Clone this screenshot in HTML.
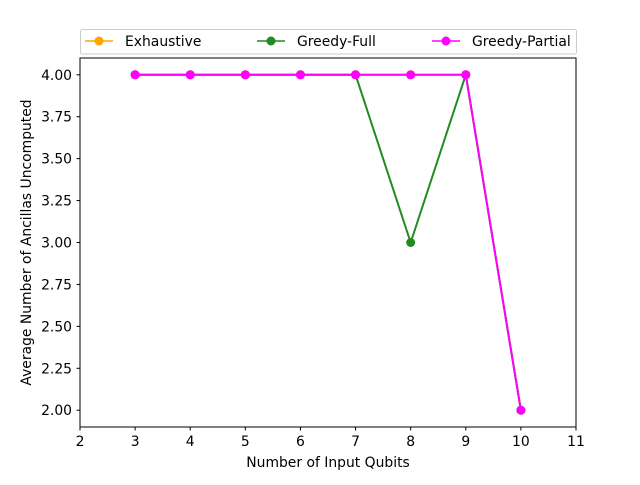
<!DOCTYPE html>
<html><head><meta charset="utf-8"><style>
body{margin:0;background:#fff;}
svg text{font-family:"DejaVu Sans","Liberation Sans",sans-serif;font-size:13.9px;fill:#000;}
</style></head><body>
<svg width="640" height="480" viewBox="0 0 640 480">
<rect width="640" height="480" fill="#fff"/>
<g id="series"></g>
<rect x="80" y="58" width="496" height="369" fill="none" stroke="#000" stroke-width="1"/>
<g id="xticks"></g><g id="yticks"></g>
<text x="328" y="467" text-anchor="middle">Number of Input Qubits</text>
<text transform="translate(31,242.5) rotate(-90)" text-anchor="middle">Average Number of Ancillas Uncomputed</text>
<g>
<rect x="80.5" y="29.5" width="496" height="24.5" rx="2" fill="#fff" stroke="#ccc"/>
<g><line x1="85" y1="41" x2="113" y2="41" stroke="orange" stroke-width="1.5"/><circle cx="99" cy="41" r="4.5" fill="orange"/><text x="125" y="46">Exhaustive</text></g>
<g><line x1="257" y1="41" x2="285" y2="41" stroke="#228b22" stroke-width="1.5"/><circle cx="271" cy="41" r="4.5" fill="#228b22"/><text x="297" y="46">Greedy-Full</text></g>
<g><line x1="432" y1="41" x2="460" y2="41" stroke="magenta" stroke-width="1.5"/><circle cx="446" cy="41" r="4.5" fill="magenta"/><text x="472" y="46">Greedy-Partial</text></g>
</g>
</svg>
<script>
const xCats=[3,4,5,6,7,8,9,10];
const exhaustive=[4,4,4,4,4,4,4,2];
const greedyFull=[4,4,4,4,4,3,4,2];
const greedyPartial=[4,4,4,4,4,4,4,2];
const xTicks=[2,3,4,5,6,7,8,9,10,11];
const yTicks=[2.00,2.25,2.50,2.75,3.00,3.25,3.50,3.75,4.00];
const NS='http://www.w3.org/2000/svg';
const X=v=>80+(v-2)/9*496;
const Y=v=>427-(v-1.9)/2.2*369;
function mk(t,a,p){const e=document.createElementNS(NS,t);for(const k in a)e.setAttribute(k,a[k]);p.appendChild(e);return e;}
const xt=document.getElementById('xticks'),yt=document.getElementById('yticks');
xTicks.forEach(v=>{
 const l=mk('line',{x1:X(v),x2:X(v),y1:427,y2:430.5,stroke:'#000'},xt);
 
 
 const t=mk('text',{x:X(v),y:446,'text-anchor':'middle'},xt);t.textContent=v;
 
 
});
yTicks.forEach(v=>{
 const l=mk('line',{x1:76.5,x2:80,y1:Y(v),y2:Y(v),stroke:'#000'},yt);
 
 
 const t=mk('text',{x:72,y:Y(v)+5,'text-anchor':'end'},yt);t.textContent=v.toFixed(2);
 
 
});
const sg=document.getElementById('series');
[[exhaustive,'orange','exhaustive'],[greedyFull,'#228b22','greedy-full'],[greedyPartial,'magenta','greedy-partial']].forEach(([d,c,n])=>{
 const g=mk('g',{},sg);
 
 
 const p=mk('polyline',{points:d.map((v,i)=>X(xCats[i])+','+Y(v)).join(' '),fill:'none',stroke:c,'stroke-width':2},g);
 
 
 d.forEach((v,i)=>{
  const m=mk('circle',{cx:X(xCats[i]),cy:Y(v),r:4.5,fill:c},g);
  
  
 });
});
</script>
</body></html>
